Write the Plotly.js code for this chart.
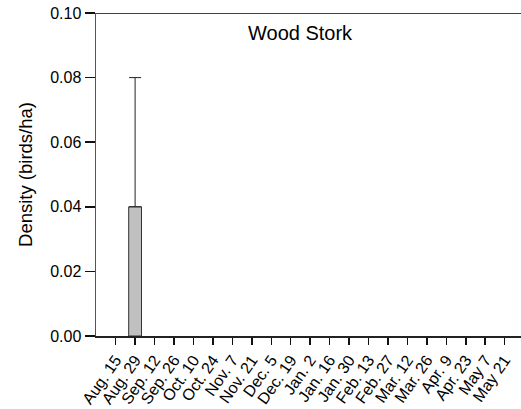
<!DOCTYPE html>
<html>
<head>
<meta charset="utf-8">
<script src="https://cdn.plot.ly/plotly-3.0.1.min.js"></script>
<style>html,body{margin:0;padding:0;background:#fff;}#chart{width:521px;height:409px;}</style>
</head>
<body>
<div id="chart"></div>
<script>
const categories = ["Aug. 15","Aug. 29","Sep. 12","Sep. 26","Oct. 10","Oct. 24","Nov. 7","Nov. 21","Dec. 5","Dec. 19","Jan. 2","Jan. 16","Jan. 30","Feb. 13","Feb. 27","Mar. 12","Mar. 26","Apr. 9","Apr. 23","May 7","May 21"];
const density = [0,0.04,0,0,0,0,0,0,0,0,0,0,0,0,0,0,0,0,0,0,0];
const errorUp = [0,0.04,0,0,0,0,0,0,0,0,0,0,0,0,0,0,0,0,0,0,0];
const yTicks = [0,0.02,0.04,0.06,0.08,0.10];
const chartTitle = "Wood Stork";
const yTitle = "Density (birds/ha)";

const idx = categories.map((c,i)=>i);
const font = 'Liberation Sans, Arial, sans-serif';

const trace = {
  type: 'bar',
  x: idx,
  y: density,
  width: 0.66,
  marker: {
    color: density.map(v => v > 0 ? '#c0c0c0' : 'rgba(0,0,0,0)'),
    line: {color: '#333', width: density.map(v => v > 0 ? 1 : 0)}
  },
  error_y: {
    type: 'data', symmetric: false,
    array: errorUp.map(v => v > 0 ? v : NaN),
    arrayminus: errorUp.map(v => v > 0 ? 0 : NaN),
    color: '#222', thickness: 1, width: 6, visible: true
  },
  hoverinfo: 'none'
};

const layout = {
  width: 521, height: 409,
  margin: {l: 96, r: 0, t: 13, b: 73, pad: 0},
  paper_bgcolor: '#fff', plot_bgcolor: '#fff',
  showlegend: false,
  font: {family: font, color: '#000', size: 16},
  xaxis: {
    range: [-1.01, 20.84],
    tickmode: 'array', tickvals: idx, ticktext: categories,
    tickangle: -55,
    ticks: 'outside', ticklen: 7, tickwidth: 1.5, tickcolor: '#111',
    showline: true, linecolor: '#222', linewidth: 1.5,
    showgrid: false, zeroline: false,
    tickfont: {family: font, size: 16, color: '#000'}
  },
  yaxis: {
    range: [0, 0.1],
    tickmode: 'array', tickvals: yTicks, ticktext: yTicks.map(v=>v.toFixed(2)),
    ticks: 'outside', ticklen: 10, tickwidth: 1.5, tickcolor: '#111',
    showline: true, linecolor: '#555', linewidth: 1.5,
    showgrid: false, zeroline: false,
    tickfont: {family: font, size: 16, color: '#000'},
    title: {text: yTitle, font: {family: font, size: 18.5, color: '#000'}, standoff: 12}
  },
  shapes: [{type: 'line', xref: 'paper', yref: 'y', x0: 0, x1: 1, y0: 0.1, y1: 0.1, line: {color: '#000', width: 1.5}}],
  annotations: [{text: chartTitle, xref: 'paper', yref: 'paper', x: 0.48, y: 0.938, showarrow: false, xanchor: 'center', yanchor: 'middle', font: {family: font, size: 20, color: '#000'}}]
};

Plotly.newPlot('chart', [trace], layout, {staticPlot: true, displayModeBar: false});
</script>
</body>
</html>
